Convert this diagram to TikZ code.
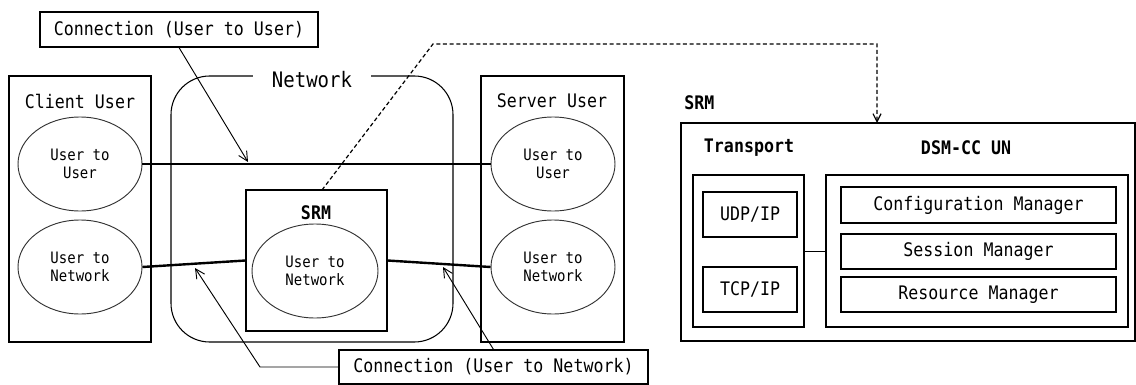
\documentclass[tikz,border=0pt]{standalone}
\usepackage{fontspec}
\usetikzlibrary{arrows.meta,shapes.geometric}
\newfontfamily\dgmono[FakeStretch=0.89]{DejaVu Sans Mono}
\tikzset{
  px/.style={x=0.75pt,y=-0.75pt},
  txt/.style={font=\dgmono\fontsize{14}{17}\selectfont, inner sep=0pt},
  btxt/.style={font=\dgmono\bfseries\fontsize{14}{17}\selectfont, inner sep=0pt},
  frame/.style n args={2}{draw, line width=0.8pt, inner sep=0pt,
    minimum width=#1*0.75pt, minimum height=#2*0.75pt},
  oval/.style={draw=black!80, line width=0.7pt, ellipse, inner sep=0pt,
    minimum width=124*0.75pt, minimum height=94*0.75pt, align=center,
    font=\dgmono\fontsize{11.8}{14}\selectfont},
  conn/.style={line width=1.8pt},
  callout/.style={line width=0.7pt, -{Straight Barb[length=7pt,width=7pt]}},
  ctrl/.style={line width=0.9pt, dash pattern=on 3pt off 2pt, -{Straight Barb[length=6pt,width=6pt]}},
}
\begin{document}
\begin{tikzpicture}[px]
\useasboundingbox (0,0) rectangle (1136,385);

% ---- left part: users, network and SRM ----
\node[frame={278}{35}, txt] (cuu) at (179,29.5) {Connection (User to User)};

\node[frame={142}{266}] (client) at (80,209) {};
\node[txt] (clientlbl) at (80,101) {Client User};
\node[oval] (cluu) at (80,164) {User to\\User};
\node[oval] (clun) at (80,267) {User to\\Network};

\node[draw, line width=0.8pt, rounded corners=29pt, inner sep=0pt,
      minimum width=282*0.75pt, minimum height=266*0.75pt] (net) at (312,209) {};
\node[fill=white, inner xsep=14pt, inner ysep=3pt,
      font=\dgmono\fontsize{16}{19}\selectfont] (netlbl) at (312,80) {Network};

\node[frame={141}{141}] (srmbox) at (316.5,260.5) {};
\node[btxt] (srmlbl) at (316,213) {SRM};
\node[oval, minimum width=126*0.75pt] (srmun) at (315,271) {User to\\Network};

\node[frame={143}{266}] (server) at (552.5,209) {};
\node[txt] (serverlbl) at (552,101) {Server User};
\node[oval] (svuu) at (553,164) {User to\\User};
\node[oval] (svun) at (553,267) {User to\\Network};

\node[frame={309}{34}, txt] (cun) at (493.5,367) {Connection (User to Network)};

% connections
\draw[conn] (cluu.east) -- (svuu.west);
\draw[conn] (clun.east) -- (srmbox.west);
\draw[conn] (srmbox.east) -- (svun.west);

% callouts
\coordinate (uuhit) at (248,162);
\coordinate (unhitL) at (195,268);
\coordinate (unhitR) at (443,267);
\coordinate (unelbow) at (260,367);
\draw[callout] (cuu.south) -- (uuhit);
\draw[callout] (cun.west) -- (unelbow) -- (unhitL);
\draw[callout] (cun.north) -- (unhitR);

% ---- right part: SRM internals ----
\node[btxt, anchor=west] (srmtitle) at (684,103) {SRM};
\node[frame={454}{218}] (srm) at (908,232) {};
\node[btxt] (translbl) at (749,148) {Transport};
\node[btxt] (dsmlbl) at (966,148) {DSM-CC UN};

\node[frame={111}{152}] (trans) at (748.5,251) {};
\node[frame={94}{45}, txt] (udp) at (750,214.5) {UDP/IP};
\node[frame={94}{45}, txt] (tcp) at (750,289.5) {TCP/IP};

\node[frame={302}{152}] (dsm) at (977,251) {};
\node[frame={275}{36}, txt] (cfg) at (978.5,205) {Configuration Manager};
\node[frame={275}{35}, txt] (ses) at (978.5,251.5) {Session Manager};
\node[frame={275}{35}, txt] (res) at (978.5,294.5) {Resource Manager};

\draw[line width=0.7pt] (trans.east) -- (dsm.west);

% control link from the network SRM to its detailed view
\coordinate (srmtop) at (322,190);
\coordinate (bend) at (433,44);
\coordinate (srmentry) at (877,123);
\draw[ctrl] (srmtop) -- (bend) -| (srmentry);
\end{tikzpicture}
\end{document}
